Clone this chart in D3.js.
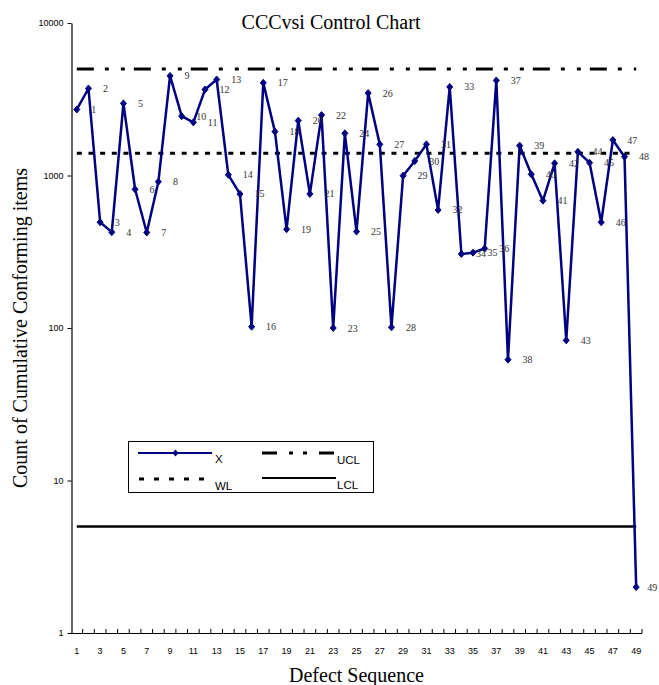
<!DOCTYPE html>
<html>
<head>
<meta charset="utf-8">
<script src="https://cdn.jsdelivr.net/npm/d3@7"></script>
<style>
  html, body { margin: 0; padding: 0; background: #fff; }
  svg { display: block; }
</style>
</head>
<body>
<svg id="chart" width="659" height="685"></svg>
<script>
// CCCvsi control chart — log-scale count per defect, with UCL / WL / LCL

const seq = [1, 2, 3, 4, 5, 6, 7, 8, 9, 10, 11, 12, 13, 14, 15, 16, 17, 18, 19, 20,
  21, 22, 23, 24, 25, 26, 27, 28, 29, 30, 31, 32, 33, 34, 35, 36, 37, 38, 39, 40,
  41, 42, 43, 44, 45, 46, 47, 48, 49];
const counts = [2710, 3720, 494, 425, 2970, 812, 423, 911, 4500, 2450,
  2230, 3660, 4260, 1010, 757, 102, 4050, 1940, 444, 2290,
  757, 2490, 100, 1890, 429, 3470, 1600, 101, 997, 1244,
  1600, 594, 3810, 306, 312, 332, 4200, 62, 1570, 1018,
  684, 1202, 83, 1430, 1213, 494, 1708, 1327, 2];
const yTicks = [1, 10, 100, 1000, 10000];
const UCL = 5000, WL = 1400, LCL = 5;

const LEFT = 71, RIGHT = 642, TOP = 23, BOTTOM = 633;
const NAVY = "#000080";
const SERIF = "'Liberation Serif','Times New Roman',serif";
const SANS = "'Liberation Sans',Arial,sans-serif";

const svg = d3.select("#chart");

const x = d3.scaleBand().domain(seq).range([LEFT, RIGHT]).padding(0);
const cx = (d) => x(d) + x.bandwidth() / 2;
const y = d3.scaleLog().domain([1, 10000]).range([BOTTOM, TOP]);

// title
svg.append("text")
  .attr("x", 331).attr("y", 29).attr("text-anchor", "middle")
  .style("font", `20px ${SERIF}`).style("fill", "#000")
  .text("CCCvsi Control Chart");

// y axis
const yAxis = svg.append("g").attr("transform", `translate(${LEFT + 0.5},0)`)
  .call(d3.axisLeft(y).tickValues(yTicks).tickSize(4).tickSizeOuter(0)
    .tickPadding(4).tickFormat(d3.format("d")));
yAxis.select(".domain").attr("stroke", "#000").attr("stroke-width", 1.2);
yAxis.selectAll(".tick line").attr("stroke", "#000");
yAxis.selectAll(".tick text").style("font", `9px ${SANS}`).style("fill", "#000");

svg.append("text")
  .attr("transform", `translate(27,${(TOP + BOTTOM) / 2}) rotate(-90)`)
  .attr("text-anchor", "middle")
  .style("font", `20px ${SERIF}`).style("fill", "#000")
  .text("Count of Cumulative Conforming items");

// x axis: line, ticks between categories, odd labels
const xa = svg.append("g");
xa.append("line").attr("x1", LEFT).attr("x2", RIGHT)
  .attr("y1", BOTTOM + 0.5).attr("y2", BOTTOM + 0.5)
  .attr("stroke", "#000").attr("stroke-width", 1.2);
xa.selectAll("line.tk").data(seq).enter().append("line").attr("class", "tk")
  .attr("x1", (d) => x(d) + x.bandwidth()).attr("x2", (d) => x(d) + x.bandwidth())
  .attr("y1", BOTTOM).attr("y2", BOTTOM - 4)
  .attr("stroke", "#000");
xa.selectAll("text").data(seq.filter((d) => d % 2 === 1)).enter().append("text")
  .attr("x", cx).attr("y", BOTTOM + 21).attr("text-anchor", "middle")
  .style("font", `9px ${SANS}`).style("fill", "#000")
  .text((d) => d);

svg.append("text")
  .attr("x", (LEFT + RIGHT) / 2).attr("y", 682).attr("text-anchor", "middle")
  .style("font", `20px ${SERIF}`).style("fill", "#000")
  .text("Defect Sequence");

// limit lines
const x0 = cx(seq[0]), x1 = cx(seq[seq.length - 1]);
svg.append("line").attr("x1", x0).attr("x2", x1).attr("y1", y(UCL)).attr("y2", y(UCL))
  .attr("stroke", "#000").attr("stroke-width", 3)
  .attr("stroke-dasharray", "17,11,4,12,4,9");
svg.append("line").attr("x1", x0).attr("x2", x1).attr("y1", y(WL)).attr("y2", y(WL))
  .attr("stroke", "#000").attr("stroke-width", 3)
  .attr("stroke-dasharray", `5,${x.bandwidth() - 5}`);
svg.append("line").attr("x1", x0).attr("x2", x1).attr("y1", y(LCL)).attr("y2", y(LCL))
  .attr("stroke", "#000").attr("stroke-width", 2.5);

// series
const diamond = "M0,-3.5L3,0L0,3.5L-3,0Z";
const pts = seq.map((s, i) => ({ s, v: counts[i] }));

svg.append("path").datum(pts)
  .attr("fill", "none").attr("stroke", NAVY).attr("stroke-width", 2.5)
  .attr("stroke-linejoin", "round")
  .attr("d", d3.line().x((d) => cx(d.s)).y((d) => y(d.v)));

svg.append("g").selectAll("path").data(pts).enter().append("path")
  .attr("transform", (d) => `translate(${cx(d.s)},${y(d.v)})`)
  .attr("d", diamond).attr("fill", NAVY).attr("stroke", NAVY).attr("stroke-width", 1);

// data labels; the last one is pulled in a little so it stays on the page
const lastS = seq[seq.length - 1];
svg.append("g").selectAll("text").data(pts).enter().append("text")
  .attr("x", (d) => cx(d.s) + (d.s === lastS ? 11 : 14.5)).attr("y", (d) => y(d.v) + 3.5)
  .style("font", `10px ${SERIF}`).style("fill", "#333")
  .text((d) => d.s);

// legend
const lg = svg.append("g");
lg.append("rect").attr("x", 128.5).attr("y", 441.5).attr("width", 245).attr("height", 51)
  .attr("fill", "#fff").attr("stroke", "#000").attr("stroke-width", 1);
lg.append("line").attr("x1", 138).attr("x2", 212).attr("y1", 453).attr("y2", 453)
  .attr("stroke", NAVY).attr("stroke-width", 2);
lg.append("path").attr("transform", "translate(175.5,453)").attr("d", diamond)
  .attr("fill", NAVY);
lg.append("line").attr("x1", 139).attr("x2", 212).attr("y1", 479).attr("y2", 479)
  .attr("stroke", "#000").attr("stroke-width", 3).attr("stroke-dasharray", "5,10");
lg.append("line").attr("x1", 262).attr("x2", 336).attr("y1", 453).attr("y2", 453)
  .attr("stroke", "#000").attr("stroke-width", 3).attr("stroke-dasharray", "15,12,4,10,4,12");
lg.append("line").attr("x1", 262).attr("x2", 336).attr("y1", 478).attr("y2", 478)
  .attr("stroke", "#000").attr("stroke-width", 2);
const legendText = [["X", 215, 463], ["WL", 215, 490], ["UCL", 337, 464], ["LCL", 337, 489]];
lg.selectAll("text").data(legendText).enter().append("text")
  .attr("x", (d) => d[1]).attr("y", (d) => d[2])
  .style("font", `11.5px ${SANS}`).style("fill", "#000")
  .text((d) => d[0]);
</script>
</body>
</html>
